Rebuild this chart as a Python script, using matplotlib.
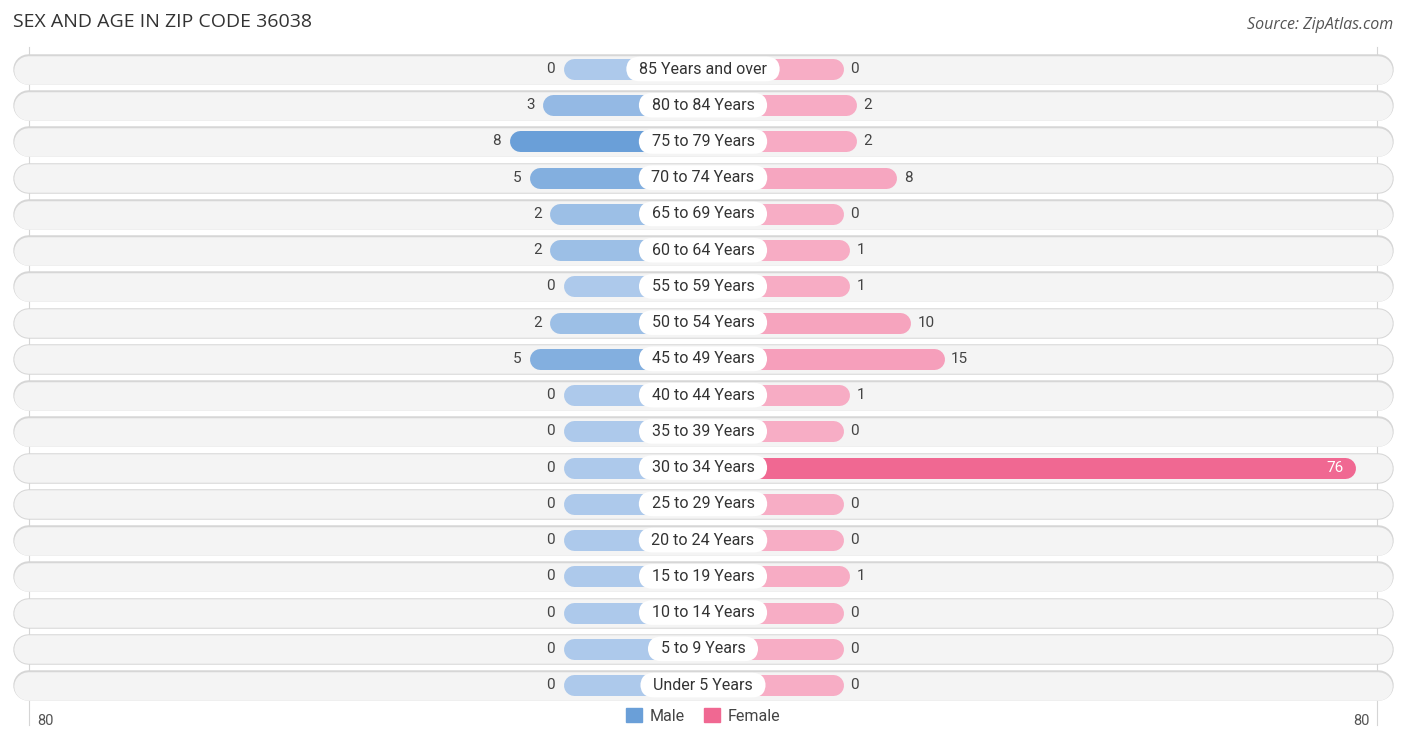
import matplotlib
matplotlib.use("Agg")
import matplotlib.pyplot as plt
from matplotlib.patches import Patch
import numpy as np

# data
age_groups = ["85 Years and over", "80 to 84 Years", "75 to 79 Years", "70 to 74 Years",
              "65 to 69 Years", "60 to 64 Years", "55 to 59 Years", "50 to 54 Years",
              "45 to 49 Years", "40 to 44 Years", "35 to 39 Years", "30 to 34 Years",
              "25 to 29 Years", "20 to 24 Years", "15 to 19 Years", "10 to 14 Years",
              "5 to 9 Years", "Under 5 Years"]
male = [0, 3, 8, 5, 2, 2, 0, 2, 5, 0, 0, 0, 0, 0, 0, 0, 0, 0]
female = [0, 2, 2, 8, 0, 1, 1, 10, 15, 1, 0, 76, 0, 0, 1, 0, 0, 0]
axis_max = 80

FONT = "Roboto"
PX = 6.74          # pixels per unit on the x axis
STUB = 140 / PX    # bars start under the centre label


def mix(c1, c2, t):
    a = np.array(matplotlib.colors.to_rgb(c1))
    b = np.array(matplotlib.colors.to_rgb(c2))
    return tuple(a + (b - a) * t)


fig = plt.figure(figsize=(14.06, 7.40), dpi=100)
ax = fig.add_axes([0, 0, 1, 1])
ax.axis("off")
ax.set_xlim(-703 / PX, 703 / PX)
ax.set_ylim(18.515, -1.904)

pt = 72 / 100  # px -> points
edge = axis_max + STUB - 5 / PX

# gridlines at +-80
for s in (-1, 1):
    ax.plot([s * edge, s * edge], [-0.6, 18.1], color="#d5d5d5", lw=0.8, zorder=0)

max_m = max(male)
max_f = max(female)
r = 10.5 / PX
for i, (lab, m, f) in enumerate(zip(age_groups, male, female)):
    # background pill
    bx = (703 - 13 - 15) / PX
    ax.plot([-bx, bx], [i, i], color="#d6d6d6", lw=30.5 * pt,
            solid_capstyle="round", zorder=1)
    ax.plot([-bx, bx], [i + 0.015, i + 0.015], color="#f4f4f4", lw=28.5 * pt,
            solid_capstyle="round", zorder=1)

    # male bar
    cm = mix("#adc9eb", "#6a9fd8", m / max_m)
    lm = STUB + m
    ax.plot([-lm + r, 0], [i, i], color=cm, lw=21 * pt, solid_capstyle="round", zorder=2)
    ax.text(-lm - 8 / PX, i, str(m), ha="right", va="center", fontsize=11,
            family=FONT, color="#444444", zorder=4)

    # female bar
    cf = mix("#f7adc5", "#f06892", f / max_f)
    lf = STUB + f
    ax.plot([0, lf - r], [i, i], color=cf, lw=21 * pt, solid_capstyle="round", zorder=2)
    if f == max_f:
        ax.text(lf - 12 / PX, i, str(f), ha="right", va="center", fontsize=11,
                family=FONT, color="white", zorder=4)
    else:
        ax.text(lf + 7 / PX, i, str(f), ha="left", va="center", fontsize=11,
                family=FONT, color="#444444", zorder=4)

    # centre label
    ax.text(0, i, "  " + lab + "  ", ha="center", va="center", fontsize=11.5,
            family=FONT, color="#333333", zorder=5,
            bbox=dict(boxstyle="round,pad=0.3,rounding_size=0.85", fc="white", ec="none"))

# axis labels
ax.text(-edge + 8 / PX, 18.0, str(axis_max), ha="left", va="center",
        fontsize=10.5, family=FONT, color="#555555")
ax.text(edge - 8 / PX, 18.0, str(axis_max), ha="right", va="center",
        fontsize=10.5, family=FONT, color="#555555")

fig.text(13 / 1406, 1 - 22 / 740, "SEX AND AGE IN ZIP CODE 36038", ha="left", va="center",
         fontsize=14, family="Open Sans", color="#333333")
fig.text(1393 / 1406, 1 - 25 / 740, "Source: ZipAtlas.com", ha="right", va="center",
         fontsize=11.5, family="Open Sans", style="italic", color="#555555")

handles = [Patch(color="#6a9fd8", label="Male"), Patch(color="#f06892", label="Female")]
leg = fig.legend(handles=handles, loc="center", bbox_to_anchor=(703 / 1406, 1 - 716 / 740),
                 ncol=2, frameon=False, handlelength=1.0, handleheight=1.0,
                 handletextpad=0.5, columnspacing=1.2,
                 prop={"family": FONT, "size": 11.5})
for t in leg.get_texts():
    t.set_color("#444444")

fig.savefig("out.png", dpi=100)
